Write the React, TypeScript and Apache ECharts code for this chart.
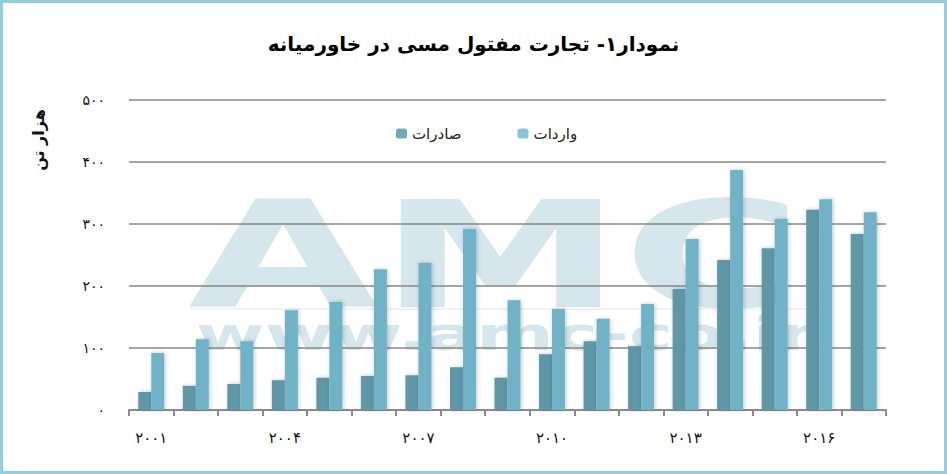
import React, { useEffect, useRef } from "react";
import * as echarts from "echarts";

const years = ["2001", "2002", "2003", "2004", "2005", "2006", "2007", "2008", "2009", "2010", "2011", "2012", "2013", "2014", "2015", "2016", "2017"];
const exportsData = [29, 39, 42, 48, 52, 55, 56, 69, 52, 90, 111, 103, 195, 242, 261, 323, 284];
const importsData = [92, 114, 111, 161, 174, 227, 237, 292, 177, 163, 147, 171, 276, 387, 308, 340, 319];
const seriesNames = ["صادرات", "واردات"];
const titleText = "نمودار۱- تجارت مفتول مسی در خاورمیانه";
const yAxisName = "هزار تن";
const watermarkBig = "AMC";
const watermarkSmall = "www.amc-co.ir";

const faDigits = "۰۱۲۳۴۵۶۷۸۹";
const fa = (v: any) => String(v).replace(/\d/g, (d) => faDigits[Number(d)]);

const FONT = "'DejaVu Sans', 'Noto Sans', sans-serif";

export default function App() {
  const ref = useRef<HTMLDivElement>(null);
  useEffect(() => {
    if (!ref.current) return;
    const chart = echarts.init(ref.current, undefined, { renderer: "svg" });
    const shadow = { shadowColor: "rgba(0,0,0,0.22)", shadowBlur: 4, shadowOffsetX: 1 };
    chart.setOption({
      animation: false,
      backgroundColor: "#ffffff",
      title: {
        text: titleText,
        left: "center",
        top: 29,
        textStyle: { fontFamily: FONT, fontSize: 20, fontWeight: "bold", color: "#000" },
      },
      legend: {
        left: 391,
        top: 121,
        itemWidth: 11,
        itemHeight: 10,
        itemGap: 56,
        textStyle: { fontFamily: FONT, fontSize: 15, color: "#222" },
        data: [
          { name: seriesNames[0], itemStyle: { color: "#6fa9ba" } },
          { name: seriesNames[1], itemStyle: { color: "#87c6d8" } },
        ],
      },
      grid: { left: 129, right: 61, top: 100, bottom: 64, containLabel: false },
      xAxis: {
        type: "category",
        data: years,
        boundaryGap: true,
        axisLine: { lineStyle: { color: "#8a8a8a", width: 2 } },
        axisTick: { show: true, interval: 0, length: 6, lineStyle: { color: "#8a8a8a", width: 2 } },
        axisLabel: {
          interval: 2,
          margin: 20,
          fontFamily: FONT,
          fontSize: 15,
          color: "#111",
          formatter: (v: string) => fa(v),
        },
      },
      yAxis: {
        type: "value",
        min: 0,
        max: 500,
        interval: 100,
        axisLine: { show: false },
        axisTick: { show: false },
        splitLine: { lineStyle: { color: "#878787", width: 1.6 } },
        axisLabel: {
          margin: 24,
          fontFamily: FONT,
          fontSize: 14,
          color: "#111",
          formatter: (v: number) => fa(v),
        },
      },
      graphic: [
        {
          type: "text",
          z: -10,
          silent: true,
          x: 188,
          y: 182,
          scaleX: 1.66,
          style: {
            text: watermarkBig,
            font: "bold 148px 'DejaVu Sans'",
            fill: "#d5e6ec",
            textVerticalAlign: "top",
            textAlign: "left",
          },
        },
        {
          type: "line",
          z: -9,
          silent: true,
          shape: { x1: 190, y1: 309, x2: 830, y2: 309 },
          style: { stroke: "#eef5f8", lineWidth: 2 },
        },
        {
          type: "text",
          z: -10,
          silent: true,
          x: 196,
          y: 311,
          scaleX: 1.62,
          style: {
            text: watermarkSmall,
            font: "bold 46px 'DejaVu Sans'",
            fill: "#d5e6ec",
            textVerticalAlign: "top",
            textAlign: "left",
          },
        },
        {
          type: "text",
          x: 38,
          y: 140,
          rotation: Math.PI / 2,
          style: {
            text: yAxisName,
            font: "bold 16px 'DejaVu Sans'",
            fill: "#111",
            textAlign: "center",
            textVerticalAlign: "middle",
          },
        },
        {
          type: "rect",
          silent: true,
          shape: { x: 1.5, y: 1.5, width: 944, height: 471 },
          style: { fill: "none", stroke: "#93cddd", lineWidth: 3 },
        },
      ],
      series: [
        {
          name: seriesNames[0],
          type: "bar",
          data: exportsData,
          barWidth: 13,
          barGap: "0%",
          itemStyle: { color: "#5e97a7", ...shadow },
        },
        {
          name: seriesNames[1],
          type: "bar",
          data: importsData,
          barWidth: 13,
          barGap: "0%",
          itemStyle: { color: "#71b3c6", ...shadow },
        },
      ],
    });
    return () => chart.dispose();
  }, []);
  return (
    <div
      ref={ref}
      style={{ position: "fixed", left: 0, top: 0, width: 947, height: 474 }}
    />
  );
}
